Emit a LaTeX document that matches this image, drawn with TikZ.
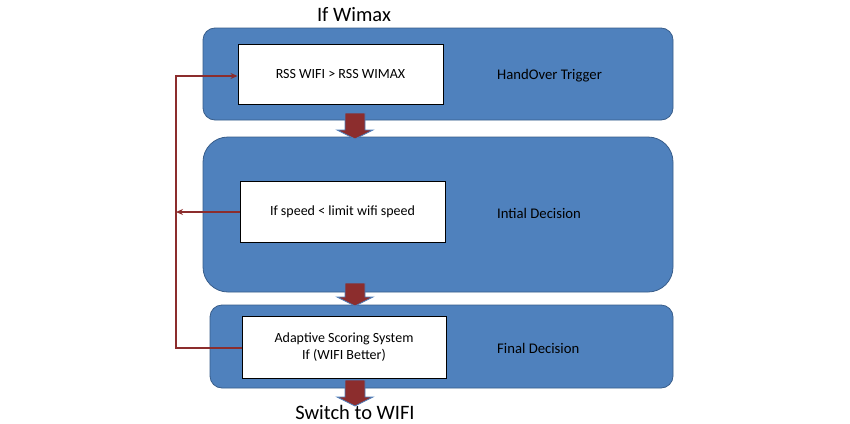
\documentclass[tikz,border=0pt]{standalone}
\usepackage{fontspec}
\setmainfont{Carlito}
\usetikzlibrary{arrows.meta}
\definecolor{pblue}{RGB}{79,129,189}
\definecolor{pedge}{RGB}{56,93,138}
\definecolor{dred}{RGB}{140,45,45}
\begin{document}
\begin{tikzpicture}[x=1pt,y=-1pt,
 panel/.style={fill=pblue,draw=pedge,line width=0.8pt},
 box/.style={fill=white,draw=black,line width=1pt},
 lbl/.style={font=\fontsize{14}{16.5}\selectfont},
 side/.style={font=\fontsize{14.7}{16}\selectfont,anchor=west,inner sep=0},
 big/.style={font=\fontsize{20.5}{22}\selectfont},
 fb/.style={draw=dred,line width=1.5pt},
 barrow/.style={fill=dred,draw=pblue,line width=0.8pt}]
\useasboundingbox (0,0) rectangle (850,423);
\fill[white] (0,0) rectangle (850,423);
\draw[panel,rounded corners=12] (203,28) rectangle (673,120);
\draw[panel,rounded corners=25] (203,137) rectangle (673,292);
\draw[panel,rounded corners=12] (210,305) rectangle (673,388);
\newcommand{\barr}[2]{\draw[barrow] (345,#1) -- (365,#1) -- (365,#2-9) -- (373,#2-9) -- (355,#2) -- (337,#2-9) -- (345,#2-9) -- cycle;}
\barr{113}{139}
\barr{283}{306}
\barr{380}{406}
\node[box,minimum width=205,minimum height=60,lbl] (b1) at (340.5,74) {RSS WIFI > RSS WIMAX};
\node[box,minimum width=205,minimum height=61,lbl] (b2) at (342.5,211.5) {If speed < limit wifi speed};
\node[box,minimum width=204,minimum height=62,lbl,align=center] (b3) at (344,347) {Adaptive Scoring System\\If (WIFI Better)};
\node[side] (t1) at (497,76) {HandOver Trigger};
\node[side] (t2) at (497,213) {Intial Decision};
\node[side] (t3) at (497,348) {Final Decision};
\node[big] (top) at (354,15) {If Wimax};
\node[big] (bot) at (355,412) {Switch to WIFI};
\coordinate (c1) at (176,76);
\coordinate (c2) at (176,212);
\coordinate (c3) at (176,348);
\draw[fb,-{Stealth[length=7pt,width=6pt]}] (b3.west|-c3) -- (c3) -- (c1) -- (b1.west|-c1);
\draw[fb,-{Stealth[length=7pt,width=6pt]}] (b2.west|-c2) -- (c2);
\end{tikzpicture}
\end{document}
